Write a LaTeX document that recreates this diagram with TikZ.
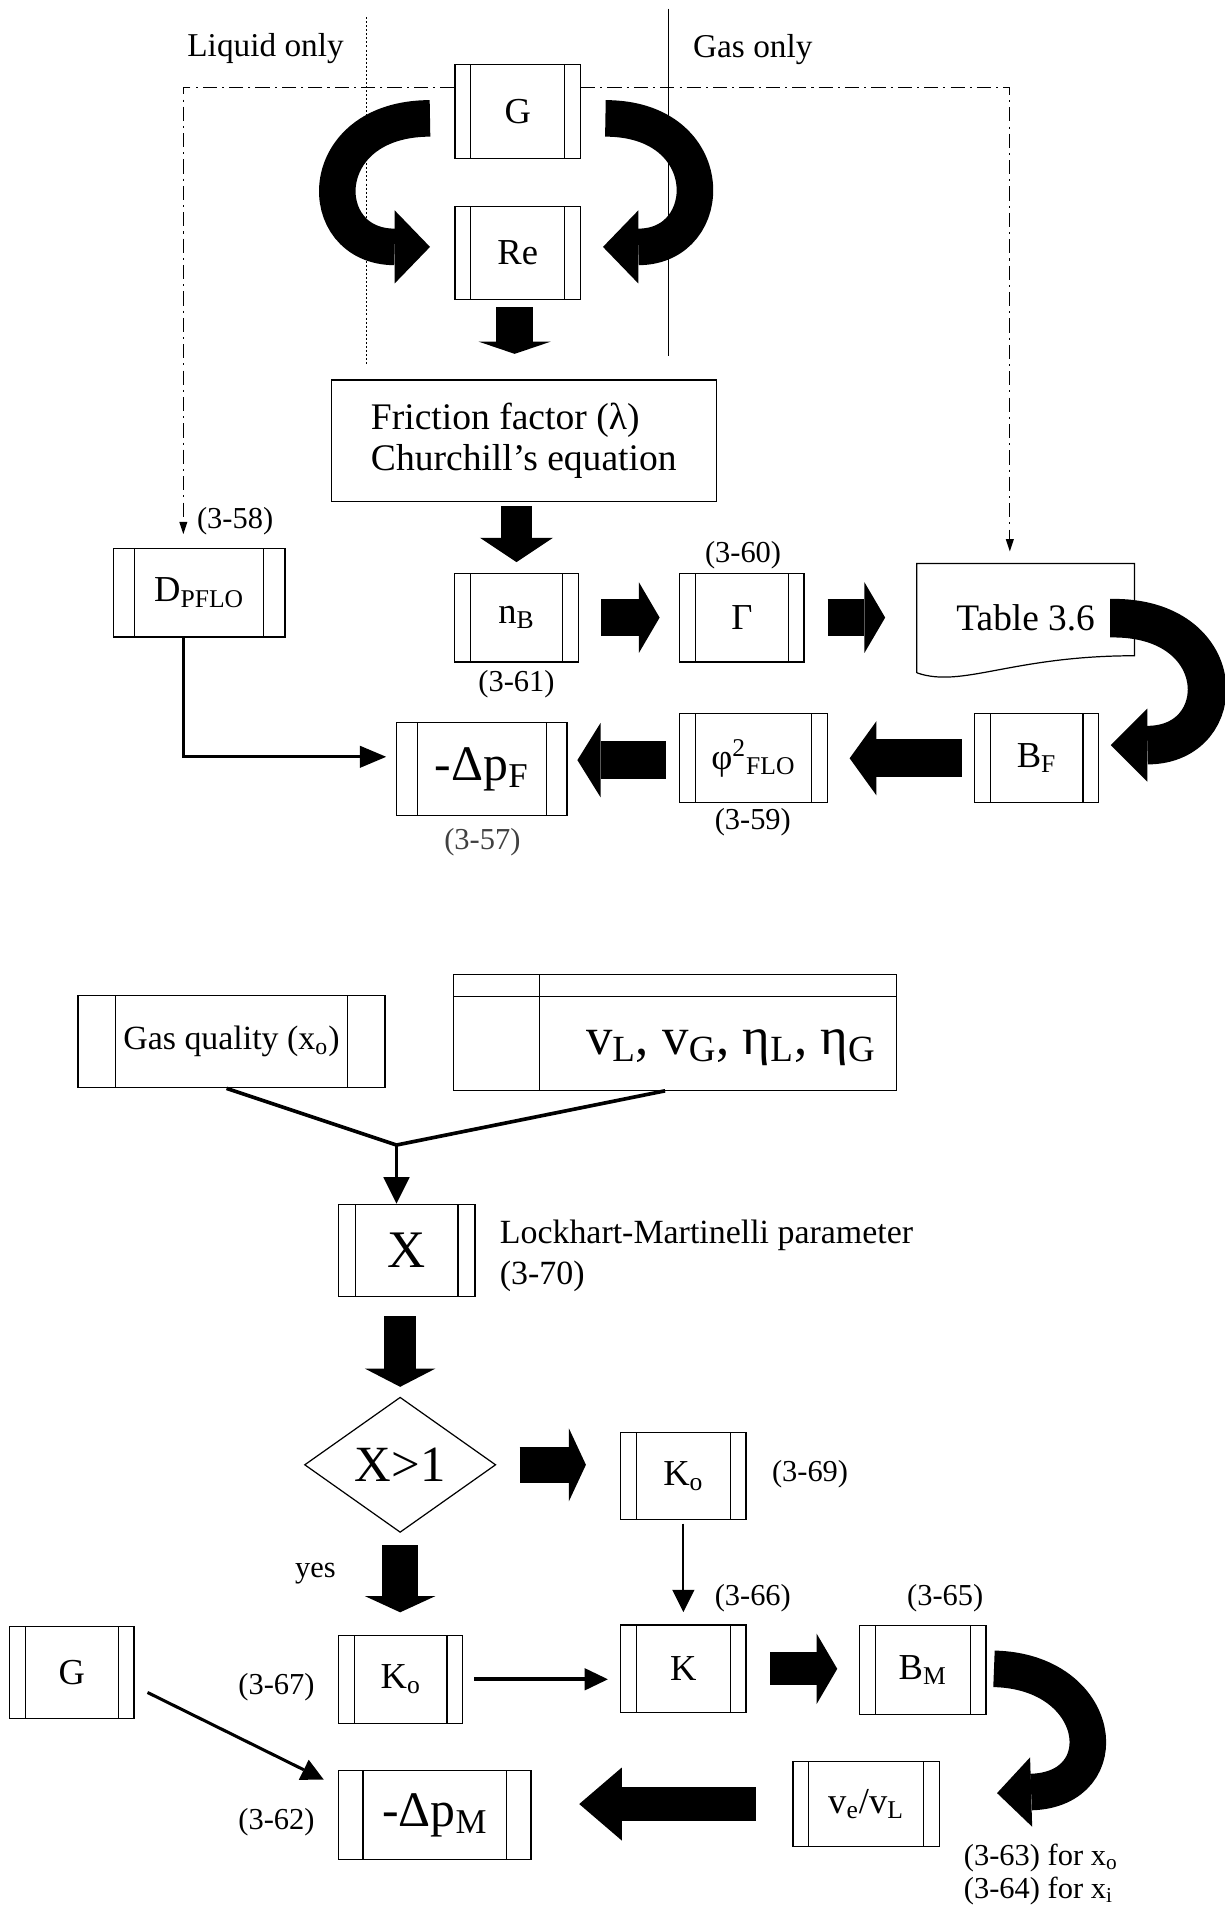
\documentclass[tikz,border=0pt]{standalone}
\usepackage{fontspec}
\setmainfont{Liberation Serif}
\usetikzlibrary{arrows.meta,calc,shapes.geometric}
\newcommand{\fsz}[1]{\fontsize{#1}{#1}\selectfont}
\begin{document}
\begin{tikzpicture}[x=0.6pt,y=-0.6pt,
  bx/.style={draw, line width=0.6pt, inner sep=0pt, font=\fsz{18}},
  sz/.style 2 args={minimum width=#1*0.6pt, minimum height=#2*0.6pt},
  proc/.style={bx, path picture={\draw[line width=0.6pt]
     ([xshift=#1]path picture bounding box.north west) -- ([xshift=#1]path picture bounding box.south west)
     ([xshift=-#1]path picture bounding box.north east) -- ([xshift=-#1]path picture bounding box.south east);}},
  proc/.default=7.8pt,
  vbx/.style={bx, path picture={\draw[line width=0.6pt]
     ([yshift=-10.8pt]path picture bounding box.north west) -- ([yshift=-10.8pt]path picture bounding box.north east)
     ([xshift=42.6pt]path picture bounding box.north west) -- ([xshift=42.6pt]path picture bounding box.south west);}},
  lbl/.style={font=\fsz{15}, inner sep=0pt},
  blk/.style n args={3}{line width=#1, -{Triangle[length=#3, width=#2, line width=0pt]}},
  tarr/.style n args={3}{line width=#1, -{Triangle[length=#2, width=#3, line width=0pt]}},
  dd/.style={line width=0.6pt, dash pattern=on 7pt off 2.5pt on 1pt off 2.5pt, -{Triangle[length=6pt, width=4pt, line width=0pt]}},
]
\useasboundingbox (0,0) rectangle (1005,1568);

% ---------- dividers and headings ----------
\coordinate (dvt) at (301,14); \coordinate (dvb) at (301,299);
\draw[line width=0.5pt, dash pattern=on 1pt off 1pt] (dvt) -- (dvb);
\coordinate (svt) at (549,7); \coordinate (svb) at (549,292);
\draw[line width=0.6pt] (svt) -- (svb);
\node[lbl, font=\fsz{16.4}] (liq) at (218,40) {Liquid only};
\node[lbl, font=\fsz{16.4}] (gas) at (618,41) {Gas only};

% ---------- upper diagram nodes ----------
\node[proc, sz={103}{77}] (G1) at (425,91.7) {G};
\node[proc, sz={103}{76}] (Re) at (425,207.7) {Re};
\node[bx, sz={316}{100}, align=left, font=\fontsize{18.5}{20.5}\selectfont] (fric) at (430,362) {Friction factor (λ)\\Churchill’s equation};
\node[proc=10.5pt, sz={141}{73}] (dpflo) at (163.5,486.5) {D\textsubscript{PFLO}};
\node[proc, sz={102}{73}] (nB) at (424,507) {n\textsubscript{B}};
\node[proc, sz={102}{73}] (Gam) at (609,507) {Γ};
\node[inner sep=0pt, sz={178}{89}, font=\fsz{18.4}] (tab) at (842,507.5) {Table 3.6};
\draw[line width=0.6pt] (tab.south west) -- (tab.north west) -- (tab.north east) -- ($(tab.south east)+(0,-14)$)
   .. controls ($(tab.south east)+(-101,-14)$) and ($(tab.south west)+(37,13)$) .. (tab.south west);
\node[proc, sz={102}{73}] (BF) at (851,622.5) {B\textsubscript{F}};
\node[proc, sz={121}{73}] (phi) at (618.5,622.5) {φ\textsuperscript{2}\textsubscript{FLO}};
\node[proc=10.2pt, sz={140}{76}, font=\fsz{24.5}] (dpF) at (395.5,631.3) {-Δp\textsubscript{F}};

\node[lbl] (l58) at (193,428) {(3-58)};
\node[lbl] (l61) at (424,562) {(3-61)};
\node[lbl] (l60) at (610,456) {(3-60)};
\node[lbl] (l59) at (618,675) {(3-59)};
\node[lbl, text=black!75] (l57) at (396,691) {(3-57)};

% ---------- upper connectors ----------
\draw[dd] ($(G1.north west)+(0,19)$) -| ($(dpflo.north)+(-13,-11)$);
\draw[dd] ($(G1.north east)+(0,19)$) -| ($(tab.north)+(-13,-10)$);

\draw[blk={18pt}{36pt}{17.4pt}] ($(G1.west)+(-20,5.5)$) .. controls +(-96,0) and +(-96,0) .. ($(Re.west)+(-20,-5)$);
\draw[blk={18pt}{36pt}{17.4pt}] ($(G1.east)+(20,5.5)$) .. controls +(94,0) and +(94,0) .. ($(Re.east)+(18,-5)$);

\draw[blk={18pt}{35.4pt}{6pt}, shorten <=3.6pt, shorten >=12.6pt] ($(Re.south)+(-2.5,0)$) -- ($(Re.south |- fric.north)+(-2.5,0)$);
\draw[blk={15pt}{36pt}{12pt}, shorten <=1.8pt, shorten >=5.1pt] (nB.north |- fric.south) -- (nB.north);
\draw[blk={18pt}{34.8pt}{10.2pt}, shorten <=10.8pt, shorten >=9.6pt] (nB.east) -- (Gam.west);
\draw[blk={18pt}{34.8pt}{10.2pt}, shorten <=11.4pt, shorten >=15.6pt] (Gam.east) -- (Gam.east -| tab.west);
\draw[blk={19pt}{36pt}{18pt}] ($(tab.east)+(-20,0)$) .. controls +(100,-2) and +(100,0) .. ($(BF.east)+(9.4,-10.8)$);
\draw[blk={18.6pt}{36.6pt}{13.2pt}, shorten <=6pt, shorten >=10.8pt] (BF.west) -- (phi.east);
\draw[blk={18.6pt}{36.6pt}{11.4pt}, shorten <=6.6pt, shorten >=4.8pt] ($(phi.west)+(0,1.5)$) -- ($(phi.west -| dpF.east)+(0,1.5)$);
\draw[tarr={1.6pt}{13pt}{11pt}] ($(dpflo.south)+(-13,0)$) |- ($(dpF.west)+(-8,-10)$);

% ---------- lower diagram nodes ----------
\node[proc=18.4pt, sz={252}{76}, font=\fsz{16.7}] (gq) at (190,855) {Gas quality (x\textsubscript{o})};
\node[vbx, sz={364}{95}] (vb) at (554,847.5) {};
\node[inner sep=0pt, font=\fsz{26}] (vt) at (600,860) {v\textsubscript{L}, v\textsubscript{G}, η\textsubscript{L}, η\textsubscript{G}};
\coordinate (jn) at (325.5,940);
\node[proc=8.4pt, sz={112}{76}, font=\fsz{26}] (X) at (334,1026.5) {X};
\node[inner sep=0pt, anchor=west, align=left, font=\fontsize{16.7}{19.8}\selectfont] (lm) at (410,1031) {Lockhart-Martinelli parameter\\(3-70)};
\node[draw, diamond, aspect=1.41, minimum width=94.2pt, minimum height=66.6pt, inner sep=0pt, line width=0.6pt, font=\fsz{25}] (dia) at (328.5,1202.5) {X>1};
\node[proc, sz={103}{72}] (Ko1) at (561,1211.7) {K\textsubscript{o}};
\node[lbl] (l69) at (665,1210) {(3-69)};
\node[lbl] (yes) at (259,1292) {yes};
\node[lbl] (l66) at (618,1312) {(3-66)};
\node[lbl] (l65) at (776,1312) {(3-65)};
\node[proc, sz={102}{75}] (G2) at (59,1373) {G};
\node[lbl] (l67) at (227,1385) {(3-67)};
\node[proc, sz={102}{72}] (Ko2) at (329,1378.6) {K\textsubscript{o}};
\node[proc, sz={103}{72}] (K) at (561,1370) {K};
\node[proc, sz={104}{73}] (BM) at (757.5,1371) {B\textsubscript{M}};
\node[proc, sz={120}{70}] (ve) at (711,1481) {v\textsubscript{e}/v\textsubscript{L}};
\node[proc=12pt, sz={158}{73}, font=\fsz{24.5}] (dpM) at (357,1490) {-Δp\textsubscript{M}};
\node[lbl] (l62) at (227,1496) {(3-62)};
\node[lbl, anchor=west] (l63) at (791,1525) {(3-63) for x\textsubscript{o}};
\node[lbl, anchor=west] (l64) at (791,1552) {(3-64) for x\textsubscript{i}};

% ---------- lower connectors ----------
\draw[line width=1.8pt] ($(gq.south)+(-4,0)$) -- (jn);
\draw[line width=1.8pt] ($(vb.south)+(-8,0)$) -- (jn);
\draw[tarr={1.8pt}{13pt}{13pt}] (jn) -- (jn |- X.north);
\draw[blk={15.6pt}{34.8pt}{9pt}, shorten <=9.4pt, shorten >=4.8pt] (dia.north |- X.south) -- (dia.north);
\draw[blk={18pt}{36pt}{8.4pt}, shorten <=11.4pt, shorten >=16.8pt] (dia.east) -- (dia.east -| Ko1.west);
\draw[tarr={1pt}{11pt}{11pt}, shorten <=1.5pt, shorten >=6pt] (Ko1.south) -- (K.north);
\draw[blk={17.4pt}{34.8pt}{8pt}, shorten <=6pt, shorten >=11.1pt] (dia.south) -- (dia.south |- Ko2.north);
\draw[tarr={1.8pt}{11.4pt}{11pt}, shorten <=5.4pt, shorten >=6pt] (Ko2.east) -- (Ko2.east -| K.west);
\draw[blk={16.2pt}{34.8pt}{10.2pt}, shorten <=11.6pt, shorten >=10.6pt] (K.east) -- (K.east -| BM.west);
\draw[blk={18pt}{34.2pt}{16.8pt}] ($(BM.east)+(6,-1)$) .. controls +(90,2) and +(100,-3) .. ($(ve.east)+(47,-9)$);
\draw[blk={16.8pt}{36pt}{21pt}, shorten <=18pt, shorten >=23.4pt] (ve.west) -- (ve.west -| dpM.east);
\draw[tarr={1.5pt}{11pt}{11pt}] ($(G2.east)+(10.6,16.4)$) -- ($(dpM.west)+(-11.7,-29)$);
\end{tikzpicture}
\end{document}
